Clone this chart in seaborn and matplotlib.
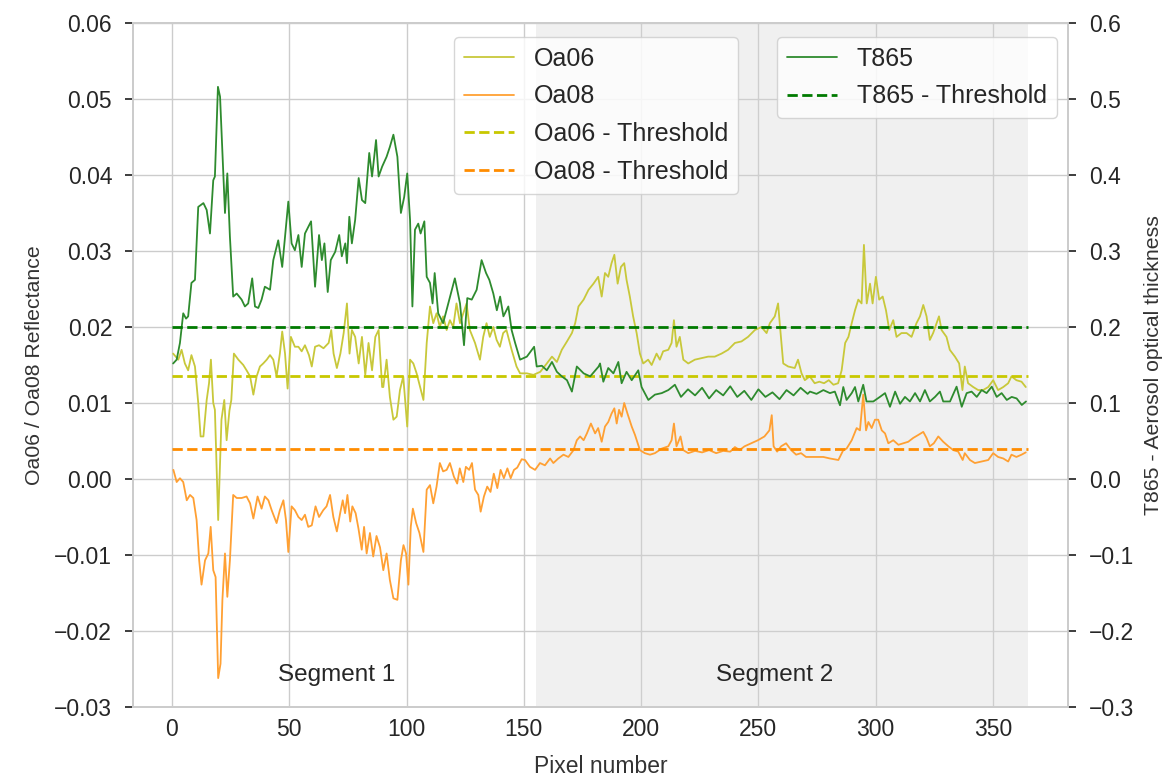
import numpy as np
import pandas as pd
import matplotlib
matplotlib.use("Agg")
import matplotlib.pyplot as plt
import seaborn as sns

# ---------------- data ----------------
oa06_x = [0.5, 2.7, 4.1, 5.5, 6.9, 8.3, 9.8, 11.2, 12.2, 13.4, 14.8, 15.8, 16.6, 17.6, 18.3, 19.7,
          21.1, 22.3, 23.3, 24.5, 25.3, 26.4, 28.3, 30.4, 31.8, 33.3, 34.7, 36.1, 37.5, 38.9, 40.4,
          41.8, 43.2, 44.6, 46.0, 47.0, 48.2, 49.3, 50.7, 52.4, 53.9, 55.3, 56.7, 58.4, 59.6, 61.0,
          62.7, 64.6, 66.8, 67.9, 68.9, 70.3, 71.8, 73.2, 74.6, 75.7, 76.7, 78.1, 79.6, 81.0, 82.4,
          83.8, 85.3, 86.7, 88.1, 89.6, 90.1, 91.5, 92.9, 94.4, 95.8, 97.2, 98.6, 100.3, 101.5,
          102.9, 104.3, 105.8, 107.2, 108.6, 110.0, 111.4, 112.8, 114.2, 115.6, 117.1, 118.5, 119.9,
          121.3, 122.8, 124.2, 125.6, 127.0, 129.2, 131.3, 132.7, 134.1, 135.5, 137.0, 138.4, 139.8,
          141.2, 142.6, 144.8, 146.9, 148.4, 151.3, 154.1, 157.0, 159.8, 162.0, 164.1, 166.2, 168.4,
          170.5, 171.9, 173.3, 175.5, 177.6, 179.7, 181.7, 183.2, 184.6, 186.0, 187.4, 188.6, 190.0,
          191.4, 192.8, 193.8, 195.2, 196.6, 198.1, 199.5, 200.9, 203.0, 204.5, 206.6, 208.0, 209.4,
          211.6, 213.0, 214.0, 215.1, 216.5, 218.0, 220.1, 222.9, 225.8, 228.6, 231.4, 234.3, 237.1,
          240.0, 242.8, 245.6, 248.5, 251.3, 253.5, 254.9, 257.0, 258.4, 259.1, 260.6, 262.7, 265.5,
          266.9, 268.4, 269.8, 271.9, 274.0, 276.0, 278.0, 280.0, 282.0, 284.0, 285.5, 287.0, 288.4,
          289.8, 291.2, 292.6, 294.0, 295.0, 296.2, 297.6, 298.7, 300.1, 301.5, 303.0, 304.4, 305.8,
          307.5, 308.9, 311.0, 313.2, 315.3, 317.4, 318.9, 320.3, 321.7, 323.1, 324.5, 326.0, 327.0,
          328.1, 330.2, 331.6, 333.8, 335.6, 337.0, 338.0, 339.4, 341.6, 343.7, 345.8, 348.0, 350.1,
          352.2, 354.4, 356.5, 357.9, 360.0, 362.2, 364.0]
oa06_y = [0.0165, 0.0157, 0.0170, 0.0152, 0.0143, 0.0163, 0.0148, 0.0100, 0.0056, 0.0056, 0.0104,
          0.0126, 0.0157, 0.0100, 0.0091, -0.0054, 0.0078, 0.0104, 0.0051, 0.0090, 0.0104, 0.0165,
          0.0157, 0.0150, 0.0143, 0.0135, 0.0111, 0.0135, 0.0148, 0.0152, 0.0157, 0.0163, 0.0157,
          0.0135, 0.0165, 0.0194, 0.0165, 0.0119, 0.0187, 0.0174, 0.0174, 0.0168, 0.0176, 0.0163,
          0.0148, 0.0174, 0.0176, 0.0172, 0.0179, 0.0196, 0.0165, 0.0146, 0.0165, 0.0192, 0.0231,
          0.0165, 0.0196, 0.0187, 0.0152, 0.0187, 0.0137, 0.0179, 0.0143, 0.0187, 0.0196, 0.0121,
          0.0121, 0.0157, 0.0108, 0.0078, 0.0082, 0.0117, 0.0135, 0.0069, 0.0157, 0.0152, 0.0139,
          0.0121, 0.0104, 0.0179, 0.0227, 0.0205, 0.0218, 0.0200, 0.0214, 0.0196, 0.0209, 0.0200,
          0.0231, 0.0205, 0.0218, 0.0231, 0.0196, 0.0179, 0.0157, 0.0187, 0.0205, 0.0187, 0.0200,
          0.0183, 0.0174, 0.0192, 0.0196, 0.0170, 0.0148, 0.0139, 0.0139, 0.0137, 0.0141, 0.0152,
          0.0161, 0.0154, 0.0170, 0.0181, 0.0192, 0.0205, 0.0227, 0.0236, 0.0249, 0.0257, 0.0266,
          0.0240, 0.0271, 0.0266, 0.0284, 0.0295, 0.0257, 0.0279, 0.0284, 0.0262, 0.0240, 0.0214,
          0.0192, 0.0165, 0.0152, 0.0157, 0.0150, 0.0165, 0.0157, 0.0168, 0.0170, 0.0179, 0.0209,
          0.0174, 0.0187, 0.0157, 0.0152, 0.0157, 0.0159, 0.0161, 0.0161, 0.0165, 0.0170, 0.0179,
          0.0181, 0.0187, 0.0196, 0.0200, 0.0192, 0.0205, 0.0214, 0.0231, 0.0205, 0.0152, 0.0148,
          0.0146, 0.0157, 0.0139, 0.0130, 0.0135, 0.0126, 0.0128, 0.0126, 0.0130, 0.0124, 0.0126,
          0.0143, 0.0179, 0.0187, 0.0205, 0.0222, 0.0236, 0.0231, 0.0308, 0.0231, 0.0257, 0.0231,
          0.0266, 0.0236, 0.0240, 0.0222, 0.0196, 0.0209, 0.0187, 0.0192, 0.0192, 0.0187, 0.0205,
          0.0214, 0.0229, 0.0214, 0.0183, 0.0192, 0.0205, 0.0214, 0.0196, 0.0187, 0.0170, 0.0161,
          0.0152, 0.0117, 0.0148, 0.0126, 0.0121, 0.0117, 0.0117, 0.0121, 0.0130, 0.0117, 0.0121,
          0.0126, 0.0135, 0.0130, 0.0128, 0.0121]

oa08_x = [0.6, 2.0, 3.4, 4.8, 6.3, 7.7, 9.1, 10.5, 11.6, 12.6, 14.1, 15.5, 16.5, 17.6, 18.6, 19.7,
          20.7, 21.5, 22.6, 23.6, 24.7, 26.1, 27.6, 29.7, 31.8, 33.3, 34.7, 36.5, 38.2, 39.6, 41.1,
          42.5, 44.6, 46.0, 47.5, 48.6, 49.6, 51.0, 52.4, 53.9, 55.3, 56.7, 58.1, 59.6, 61.2, 62.7,
          64.5, 65.9, 67.4, 68.8, 70.3, 71.7, 72.8, 73.8, 74.8, 76.0, 76.9, 78.3, 79.5, 80.9, 81.9,
          83.0, 84.4, 85.8, 87.2, 88.7, 90.1, 91.5, 92.9, 94.4, 96.1, 97.6, 98.7, 99.8, 100.8,
          101.8, 102.7, 104.1, 105.5, 107.2, 108.6, 110.0, 111.4, 112.8, 114.2, 115.6, 117.1, 118.5,
          120.2, 121.6, 122.7, 124.2, 125.3, 126.7, 127.9, 129.2, 130.6, 131.6, 133.0, 134.4, 135.8,
          137.2, 138.7, 140.1, 141.5, 143.0, 144.4, 145.8, 147.2, 149.1, 150.5, 152.6, 154.8, 156.9,
          159.0, 161.2, 162.6, 164.7, 166.9, 169.0, 171.2, 172.6, 174.0, 175.5, 176.9, 178.6, 180.4,
          181.7, 183.2, 184.6, 186.0, 187.4, 188.6, 189.6, 190.6, 191.7, 192.8, 194.2, 196.0, 197.4,
          199.5, 201.6, 203.8, 205.9, 208.8, 211.6, 213.0, 214.0, 215.1, 216.8, 218.0, 220.1, 223.0,
          226.0, 229.0, 232.0, 235.0, 238.0, 240.0, 242.0, 244.1, 246.9, 249.8, 252.6, 254.7, 255.7,
          256.5, 258.0, 259.7, 261.8, 264.0, 266.1, 268.2, 270.3, 272.0, 274.8, 277.7, 280.5, 284.1,
          286.2, 287.6, 289.8, 291.9, 293.3, 294.7, 295.9, 296.9, 298.3, 299.7, 301.1, 302.6, 304.0,
          305.4, 307.5, 309.7, 311.8, 313.9, 316.0, 318.2, 320.3, 321.7, 323.1, 324.8, 326.7, 328.8,
          331.0, 333.1, 335.2, 337.1, 338.0, 340.2, 342.3, 345.2, 348.0, 350.1, 352.2, 354.4, 356.5,
          357.9, 360.0, 362.2, 364.0]
oa08_y = [0.0012, -0.0004, 0.0001, -0.0004, -0.0028, -0.0021, -0.0025, -0.0054, -0.0107, -0.0139,
          -0.0107, -0.0098, -0.0063, -0.0120, -0.0129, -0.0262, -0.0243, -0.0159, -0.0098, -0.0155,
          -0.0107, -0.0021, -0.0025, -0.0025, -0.0023, -0.0032, -0.0052, -0.0023, -0.0039, -0.0023,
          -0.0028, -0.0041, -0.0058, -0.0041, -0.0028, -0.0054, -0.0096, -0.0036, -0.0041, -0.0050,
          -0.0054, -0.0047, -0.0063, -0.0061, -0.0036, -0.0050, -0.0041, -0.0036, -0.0021, -0.0050,
          -0.0069, -0.0045, -0.0028, -0.0045, -0.0021, -0.0056, -0.0036, -0.0045, -0.0065, -0.0093,
          -0.0063, -0.0098, -0.0071, -0.0102, -0.0075, -0.0090, -0.0120, -0.0098, -0.0133, -0.0157,
          -0.0159, -0.0107, -0.0087, -0.0098, -0.0139, -0.0063, -0.0039, -0.0058, -0.0071, -0.0096,
          -0.0014, -0.0008, -0.0032, -0.0010, 0.0021, 0.0010, 0.0012, 0.0021, 0.0003, -0.0006,
          0.0014, -0.0004, 0.0016, 0.0012, 0.0021, -0.0014, -0.0021, -0.0043, -0.0023, -0.0010,
          -0.0017, 0.0007, -0.0012, 0.0012, 0.0001, 0.0014, 0.0001, 0.0012, 0.0015, 0.0026, 0.0025,
          0.0016, 0.0012, 0.0021, 0.0018, 0.0027, 0.0021, 0.0027, 0.0032, 0.0029, 0.0038, 0.0051,
          0.0056, 0.0051, 0.0060, 0.0073, 0.0060, 0.0067, 0.0049, 0.0069, 0.0075, 0.0086, 0.0093,
          0.0073, 0.0091, 0.0082, 0.0100, 0.0086, 0.0069, 0.0058, 0.0038, 0.0034, 0.0032, 0.0034,
          0.0040, 0.0043, 0.0051, 0.0073, 0.0043, 0.0056, 0.0038, 0.0034, 0.0037, 0.0035, 0.0038,
          0.0034, 0.0037, 0.0036, 0.0042, 0.0038, 0.0043, 0.0047, 0.0051, 0.0056, 0.0064, 0.0084,
          0.0043, 0.0036, 0.0043, 0.0047, 0.0038, 0.0032, 0.0034, 0.0029, 0.0029, 0.0029, 0.0029,
          0.0027, 0.0025, 0.0038, 0.0040, 0.0051, 0.0067, 0.0064, 0.0111, 0.0064, 0.0075, 0.0067,
          0.0078, 0.0078, 0.0064, 0.0060, 0.0047, 0.0051, 0.0045, 0.0047, 0.0049, 0.0054, 0.0058,
          0.0062, 0.0054, 0.0043, 0.0047, 0.0056, 0.0049, 0.0043, 0.0038, 0.0036, 0.0025, 0.0034,
          0.0025, 0.0021, 0.0023, 0.0025, 0.0034, 0.0029, 0.0027, 0.0023, 0.0032, 0.0029, 0.0032,
          0.0035]

t865_x = [0.5, 2.0, 3.4, 4.8, 6.0, 6.9, 8.3, 9.8, 11.2, 13.4, 14.8, 16.2, 17.6, 18.3, 19.6, 20.5,
          21.5, 22.6, 23.6, 24.7, 26.1, 27.6, 29.7, 31.1, 32.5, 34.2, 35.4, 36.8, 38.2, 39.6, 41.8,
          43.2, 45.3, 47.0, 48.2, 49.6, 51.0, 52.4, 53.9, 55.3, 56.7, 59.3, 61.0, 62.7, 63.9, 65.0,
          66.4, 67.7, 69.6, 71.3, 72.4, 73.9, 74.6, 75.6, 76.7, 78.1, 79.6, 81.0, 82.4, 84.1, 85.3,
          87.0, 88.1, 89.6, 91.5, 92.9, 94.4, 96.1, 97.6, 99.0, 100.3, 101.5, 102.5, 103.6, 105.0,
          106.0, 107.6, 108.6, 110.0, 111.1, 112.0, 113.5, 115.6, 117.8, 120.6, 122.8, 124.5, 125.9,
          127.8, 129.9, 132.0, 133.9, 135.3, 137.0, 138.5, 139.9, 141.3, 143.4, 144.8, 146.3, 148.4,
          151.3, 154.4, 155.5, 157.7, 159.8, 162.0, 164.1, 166.2, 168.4, 170.5, 172.6, 175.5, 178.3,
          181.9, 182.5, 183.9, 186.0, 188.2, 190.3, 191.7, 193.8, 196.0, 198.8, 200.2, 203.1, 205.9,
          208.8, 211.6, 214.4, 217.0, 220.0, 223.0, 226.0, 229.0, 232.0, 235.0, 238.0, 241.0, 244.0,
          247.0, 250.0, 253.0, 256.0, 259.0, 262.0, 265.0, 268.0, 271.0, 272.0, 274.8, 277.7, 280.5,
          282.6, 284.8, 286.2, 287.6, 289.8, 291.2, 292.6, 294.7, 296.1, 299.0, 301.8, 304.0, 306.1,
          308.3, 310.4, 312.5, 314.6, 316.8, 318.9, 321.0, 323.1, 325.3, 327.4, 328.8, 331.7, 334.5,
          336.7, 338.8, 340.9, 343.1, 345.2, 347.3, 349.5, 351.6, 353.7, 355.9, 358.0, 360.1, 362.3,
          364.1]
t865_y = [0.152, 0.157, 0.179, 0.218, 0.211, 0.214, 0.258, 0.262, 0.358, 0.363, 0.354, 0.323, 0.393,
          0.398, 0.516, 0.503, 0.429, 0.350, 0.402, 0.319, 0.240, 0.244, 0.236, 0.227, 0.231, 0.264,
          0.227, 0.225, 0.236, 0.253, 0.249, 0.288, 0.314, 0.279, 0.319, 0.365, 0.310, 0.301, 0.321,
          0.279, 0.323, 0.339, 0.253, 0.321, 0.288, 0.310, 0.246, 0.288, 0.299, 0.321, 0.293, 0.310,
          0.284, 0.345, 0.310, 0.341, 0.396, 0.367, 0.363, 0.429, 0.398, 0.446, 0.398, 0.411, 0.424,
          0.437, 0.453, 0.424, 0.350, 0.371, 0.402, 0.341, 0.227, 0.328, 0.336, 0.323, 0.339, 0.266,
          0.258, 0.231, 0.271, 0.218, 0.205, 0.231, 0.264, 0.231, 0.176, 0.238, 0.236, 0.249, 0.288,
          0.271, 0.262, 0.244, 0.222, 0.240, 0.214, 0.227, 0.196, 0.179, 0.157, 0.161, 0.174, 0.148,
          0.149, 0.143, 0.154, 0.141, 0.135, 0.130, 0.115, 0.148, 0.139, 0.135, 0.148, 0.152, 0.128,
          0.146, 0.139, 0.154, 0.126, 0.141, 0.130, 0.143, 0.121, 0.104, 0.111, 0.113, 0.117, 0.124,
          0.108, 0.118, 0.110, 0.120, 0.106, 0.117, 0.110, 0.122, 0.108, 0.116, 0.104, 0.118, 0.108,
          0.114, 0.105, 0.117, 0.110, 0.120, 0.112, 0.115, 0.112, 0.117, 0.113, 0.115, 0.097, 0.121,
          0.104, 0.113, 0.121, 0.102, 0.124, 0.102, 0.102, 0.108, 0.113, 0.095, 0.115, 0.099, 0.108,
          0.102, 0.113, 0.102, 0.117, 0.102, 0.108, 0.115, 0.102, 0.102, 0.1215, 0.095, 0.113, 0.115,
          0.108, 0.117, 0.113, 0.1215, 0.108, 0.113, 0.104, 0.108, 0.106, 0.0974, 0.102]

threshold_x = [0, 365]
oa06_threshold = 0.0136
oa08_threshold = 0.0039
t865_threshold = 0.2

segment_names = ["Segment 1", "Segment 2"]
segment2_span = [155, 365]

# ---------------- style ----------------
sns.set_theme(style="whitegrid")
plt.rcParams["font.family"] = ["Liberation Sans", "DejaVu Sans"]
plt.rcParams.update({
    "xtick.bottom": False, "ytick.left": True, "ytick.right": True,
    "axes.edgecolor": "#cccccc", "grid.color": "#cccccc",
    "xtick.color": "#262626", "ytick.color": "#262626",
})

TICK_FS = 16.5
HLABEL_FS = 16.5
VLABEL_FS = 15.3
LEG_FS = 18
SEG_FS = 17.5

fig = plt.figure(figsize=(11.69, 7.76), dpi=100)
ax = fig.add_subplot(111)
fig.subplots_adjust(left=0.1138, right=0.9136, top=0.9704, bottom=0.0889)

df06 = pd.DataFrame({"x": oa06_x, "y": oa06_y})
df08 = pd.DataFrame({"x": oa08_x, "y": oa08_y})
dft = pd.DataFrame({"x": t865_x, "y": t865_y})

ax.axvspan(segment2_span[0], segment2_span[1], color="lightgray", alpha=0.32, lw=0, zorder=0.6)

sns.lineplot(data=df06, x="x", y="y", ax=ax, color="#c8c83a", lw=1.3, label="Oa06", estimator=None)
sns.lineplot(data=df08, x="x", y="y", ax=ax, color="#ffa033", lw=1.3, label="Oa08", estimator=None)
sns.lineplot(x=threshold_x, y=[oa06_threshold] * 2, ax=ax, color="#c8c800", lw=2.0,
             linestyle="--", label="Oa06 - Threshold")
sns.lineplot(x=threshold_x, y=[oa08_threshold] * 2, ax=ax, color="#ff8c00", lw=2.0,
             linestyle="--", label="Oa08 - Threshold")

ax.set_xlim(-16.6, 382)
ax.set_ylim(-0.03, 0.06)
ax.set_yticks(np.arange(-0.03, 0.0601, 0.01))
ax.set_xlabel("Pixel number", fontsize=HLABEL_FS, color="#333333", labelpad=10)
ax.set_ylabel("Oa06 / Oa08 Reflectance", fontsize=VLABEL_FS, color="#333333", labelpad=7)
ax.tick_params(axis="x", labelsize=TICK_FS, pad=2)
ax.tick_params(axis="y", labelsize=TICK_FS, length=6, width=1.25, pad=9)
ax.yaxis.set_major_formatter(matplotlib.ticker.FuncFormatter(lambda v, p: f"{v:.2f}".replace("-", "\u2212")))
ax.legend(loc="upper left", bbox_to_anchor=(0.343, 0.98), fontsize=LEG_FS, borderaxespad=0,
          framealpha=0.8, labelspacing=0.55, handlelength=2.0)

ax2 = ax.twinx()
sns.lineplot(data=dft, x="x", y="y", ax=ax2, color="#2e8b2e", lw=1.3, label="T865", estimator=None)
sns.lineplot(x=threshold_x, y=[t865_threshold] * 2, ax=ax2, color="#007a00", lw=2.0,
             linestyle="--", label="T865 - Threshold")
ax2.set_ylim(-0.3, 0.6)
ax2.set_yticks(np.arange(-0.3, 0.601, 0.1))
ax2.yaxis.set_major_formatter(matplotlib.ticker.FuncFormatter(lambda v, p: f"{v:.1f}".replace("-", "\u2212")))
ax2.grid(False)
ax2.set_xlabel("")
ax2.set_ylabel("T865 - Aerosol optical thickness", fontsize=VLABEL_FS, color="#333333", labelpad=7)
ax2.tick_params(axis="y", labelsize=TICK_FS, length=6, width=1.25, pad=9)
ax2.legend(loc="upper right", bbox_to_anchor=(0.988, 0.98), fontsize=LEG_FS, borderaxespad=0,
           framealpha=0.8, labelspacing=0.55, handlelength=2.0)

ax.text(70, -0.0258, segment_names[0], ha="center", va="center", fontsize=SEG_FS, color="#262626")
ax.text(257, -0.0258, segment_names[1], ha="center", va="center", fontsize=SEG_FS, color="#262626")

fig.savefig("out.png", dpi=100)
